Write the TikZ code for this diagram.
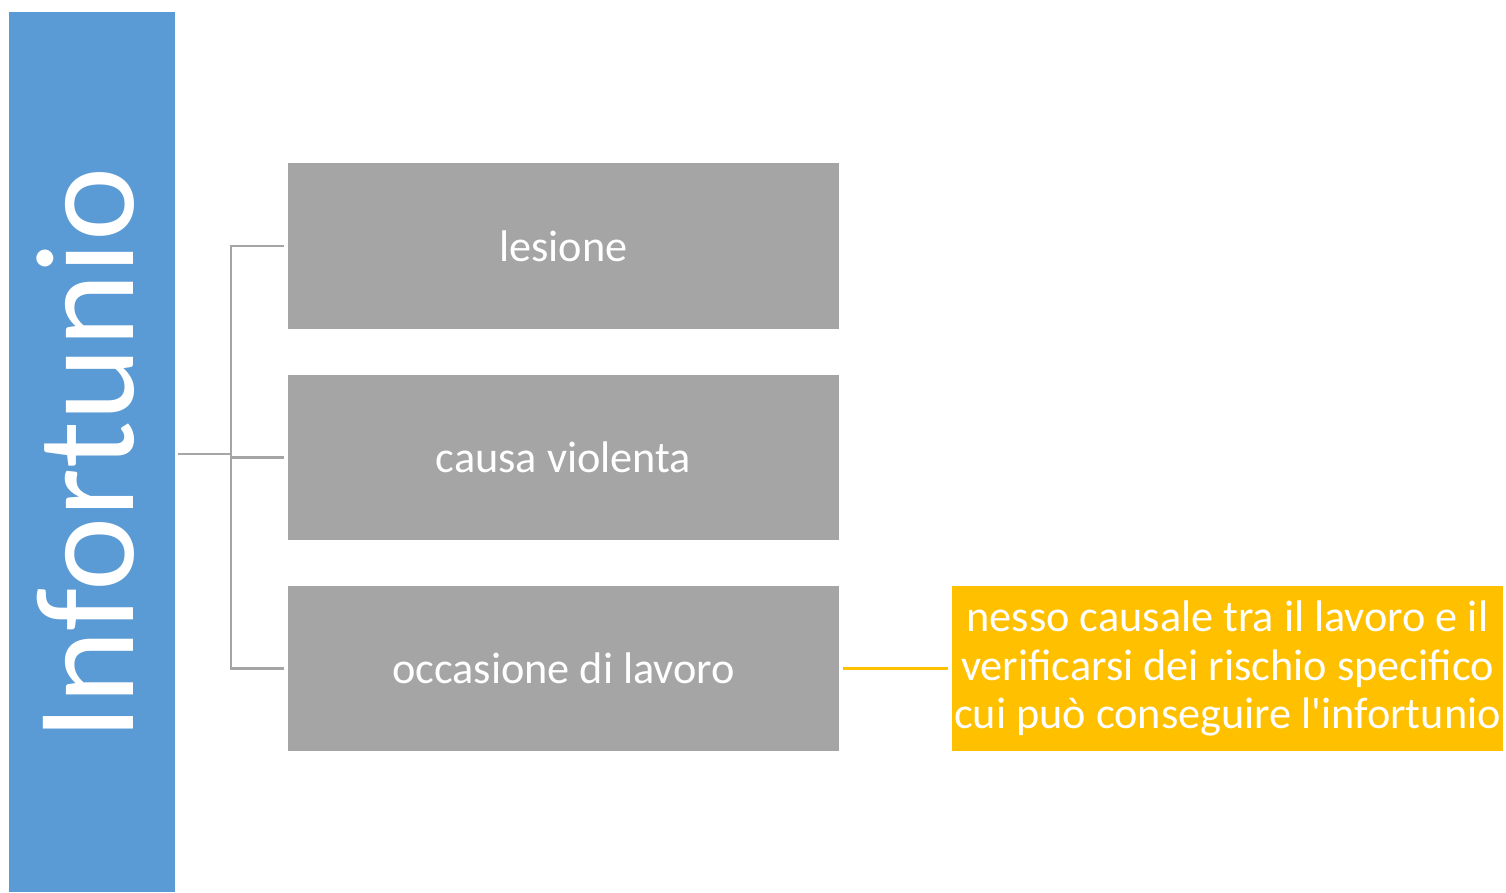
\documentclass[tikz,border=0pt]{standalone}
\usepackage{fontspec}
\setmainfont{Carlito}
\usetikzlibrary{positioning}
\definecolor{titleblue}{HTML}{5B9BD5}
\definecolor{boxgray}{HTML}{A5A5A5}
\definecolor{noteyellow}{HTML}{FFC000}

\begin{document}
\begin{tikzpicture}[x=0.02cm, y=-0.02cm,
   title/.style = {fill=titleblue, inner sep=0pt, minimum width=3.32cm, minimum height=17.6cm},
   item/.style = {fill=boxgray, text=white, inner sep=0pt, minimum width=11.02cm, minimum height=3.32cm, font=\fontsize{25.2}{28}\selectfont},
   note/.style = {fill=noteyellow, text=white, inner sep=0pt, minimum width=11.02cm, minimum height=3.32cm, align=center, font=\fontsize{25.2}{27.8}\selectfont},
   link/.style = {boxgray, line width=1.2pt},
   notelink/.style = {noteyellow, line width=1.2pt}
                        ]
\useasboundingbox (0,0) rectangle (1506,892);
% left title bar
\node (bar) [title, anchor=north west] at (9,12) {};
\node (title) [rotate=90, text=white, font=\fontsize{80}{80}\selectfont] at (86,454) {Infortunio};
% the three items
\node (les) [item] at (563.5,246) {lesione};
\node (cau) [item] at (563.5,457.5) {causa violenta};
\node (occ) [item] at (563.5,668.5) {occasione di lavoro};
\node (nes) [note] at (1227.5,668.5) {nesso causale tra il lavoro e il\\verificarsi dei rischio specifico\\cui può conseguire l\textquotesingle infortunio};
% connectors
\coordinate (fork) at (231,454);
\draw [link] ([xshift=1.5pt]bar.east |- fork) -- (fork);
\draw [link] ([xshift=-2pt]les.west) -| (fork) |- ([xshift=-2pt]occ.west);
\draw [link] (fork |- cau.west) -- ([xshift=-2pt]cau.west);
\draw [notelink] ([xshift=2pt]occ.east) -- ([xshift=-2pt]nes.west);
\end{tikzpicture}
\end{document}
